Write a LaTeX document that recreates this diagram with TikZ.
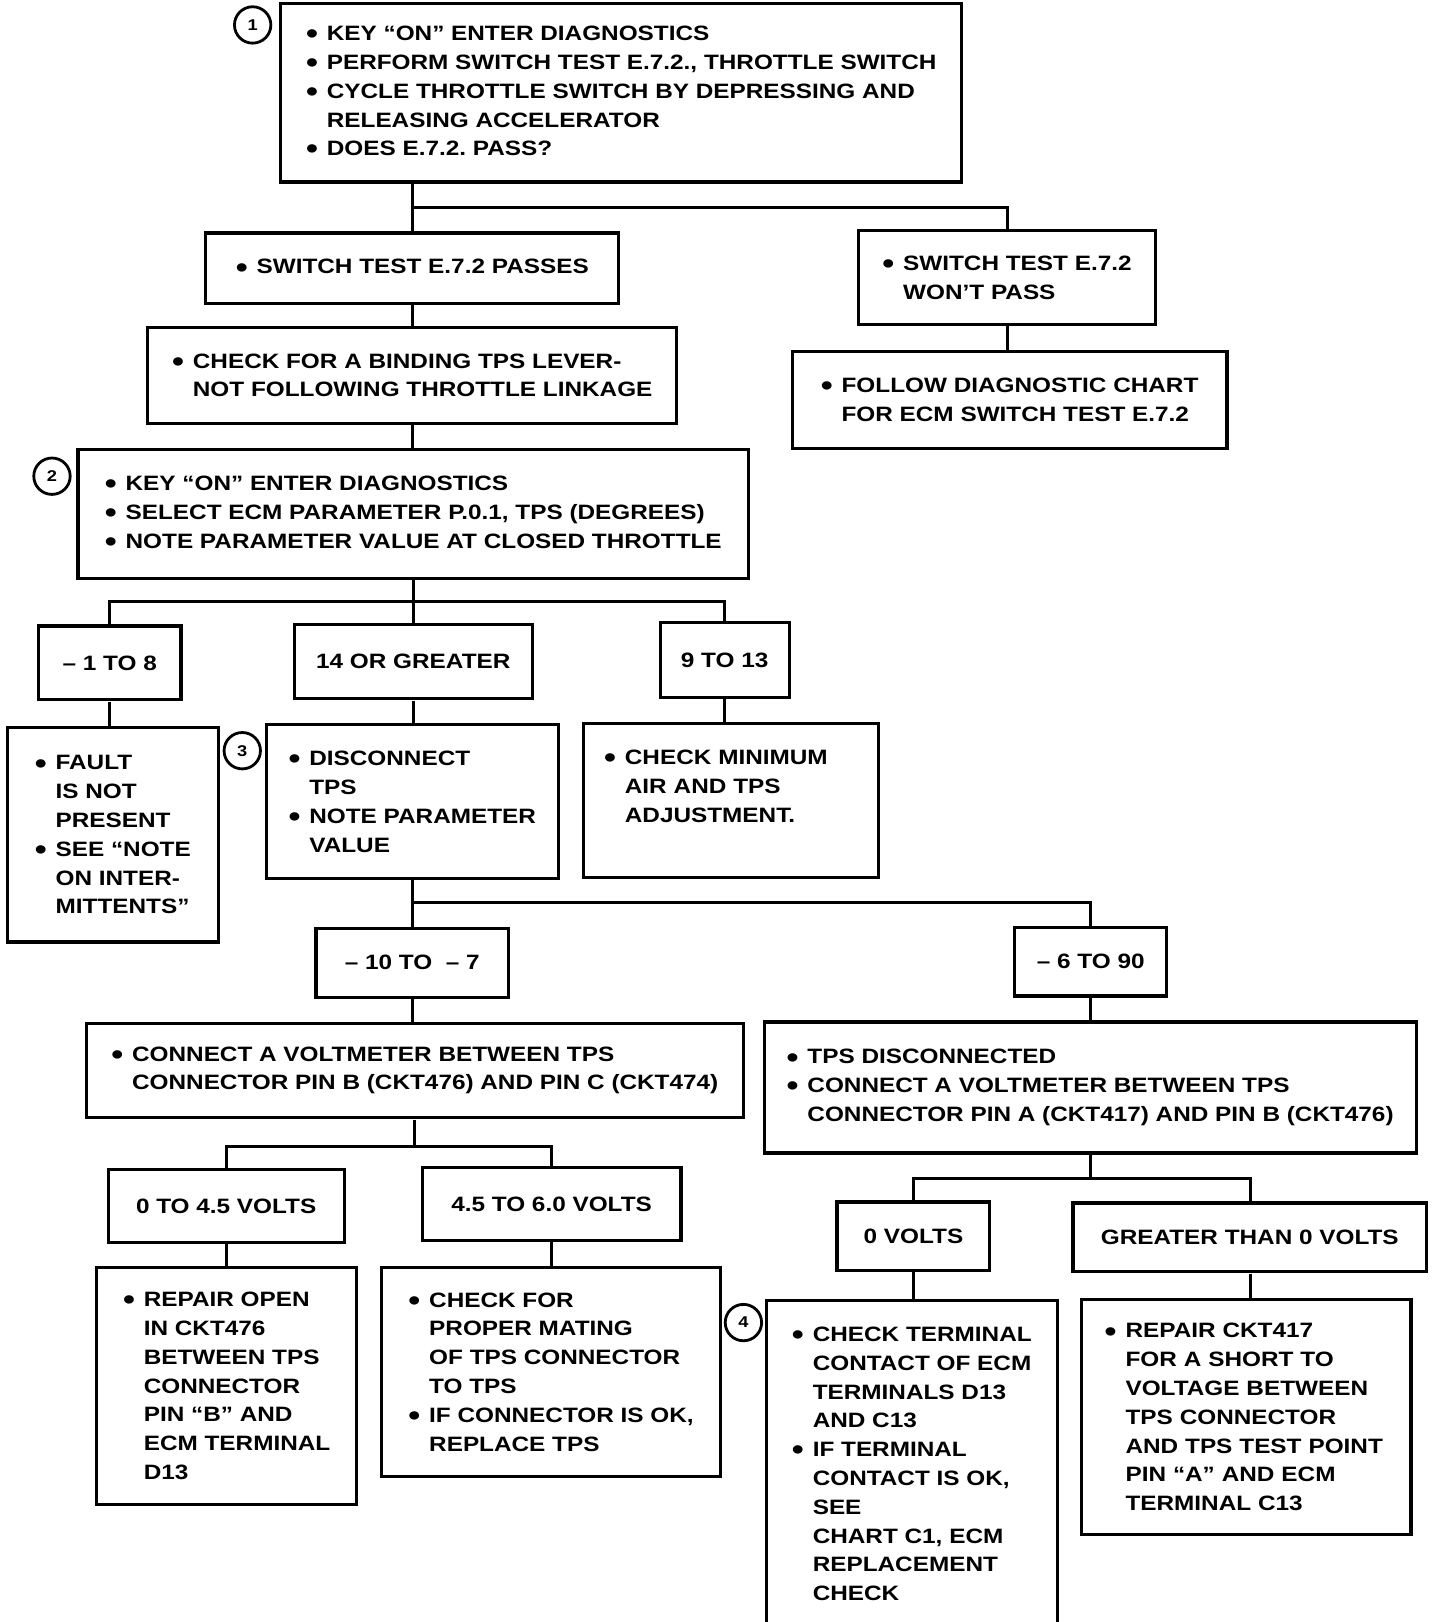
\documentclass[tikz,border=0pt]{standalone}
\usepackage{fontspec}
\setmainfont{Liberation Sans}[FakeStretch=1.17]
\usepackage{tikz}
\usetikzlibrary{calc}
\frenchspacing
\newcommand{\chartfont}{\bfseries\fontsize{20}{27.7}\selectfont}
\newcommand{\bul}{\makebox[1em][l]{\raisebox{-0.15em}{\scalebox{1.4}{•}}}}
\newcommand{\ind}{\hspace*{1em}}
\tikzset{
  box/.style={draw, line width=3.2pt, align=left, inner sep=0pt, font=\chartfont},
  num/.style={draw, circle, line width=2.8pt, minimum size=35, inner sep=0pt,
    font=\bfseries\fontsize{15}{15}\selectfont},
  link/.style={line width=3pt}
}

\begin{document}
\begin{tikzpicture}[x=1pt, y=-1pt, scale=1.04, every node/.append style={transform shape}]
\useasboundingbox (0,0) rectangle (1385,1560);
% first check
\node[box, minimum width=655, minimum height=172] (B1) at (597.5,89)
  {\bul KEY “ON” ENTER DIAGNOSTICS\\
   \bul PERFORM SWITCH TEST E.7.2., THROTTLE SWITCH\\
   \bul CYCLE THROTTLE SWITCH BY DEPRESSING AND\\
   \ind RELEASING ACCELERATOR\\
   \bul DOES E.7.2. PASS?};
\node[box, minimum width=397, minimum height=68] (B2) at (396.5,258)
  {\bul SWITCH TEST E.7.2 PASSES};
\node[box, minimum width=285, minimum height=90] (B3) at (968.5,267)
  {\bul SWITCH TEST E.7.2\\ \ind WON'T PASS};
\node[box, minimum width=509, minimum height=92] (B4) at (396.5,361)
  {\bul CHECK FOR A BINDING TPS LEVER-\\ \ind NOT FOLLOWING THROTTLE LINKAGE};
\node[box, minimum width=418, minimum height=93] (B5) at (971,384.5)
  {\bul FOLLOW DIAGNOSTIC CHART\\ \ind FOR ECM SWITCH TEST E.7.2};
\node[box, minimum width=645, minimum height=124] (B6) at (397.5,494)
  {\bul KEY “ON” ENTER DIAGNOSTICS\\
   \bul SELECT ECM PARAMETER P.0.1, TPS (DEGREES)\\
   \bul NOTE PARAMETER VALUE AT CLOSED THROTTLE};
% parameter values
\node[box, minimum width=137, minimum height=71] (C1) at (105.5,637.5) {– 1 TO 8};
\node[box, minimum width=229, minimum height=71] (C2) at (397.5,636.5) {14 OR GREATER};
\node[box, minimum width=124, minimum height=72] (C3) at (697,635) {9 TO 13};
\node[box, minimum width=203, minimum height=206] (D1) at (108.5,803)
  {\bul FAULT\\ \ind IS NOT\\ \ind PRESENT\\ \bul SEE “NOTE\\ \ind ON INTER-\\ \ind MITTENTS”};
\node[box, minimum width=281, minimum height=148] (D2) at (396.5,771)
  {\bul DISCONNECT\\ \ind TPS\\ \bul NOTE PARAMETER\\ \ind VALUE};
\node[box, minimum width=284, minimum height=148, text width=244] (D3) at (703,770)
  {\bul CHECK MINIMUM\\ \ind AIR AND TPS\\ \ind ADJUSTMENT.\\ \mbox{}};
% disconnected tps
\node[box, minimum width=185, minimum height=66] (E1) at (396.5,926) {– 10 TO \ – 7};
\node[box, minimum width=146, minimum height=66] (E2) at (1049,925) {– 6 TO 90};
\node[box, minimum width=632, minimum height=91] (F1) at (399,1029.5)
  {\bul CONNECT A VOLTMETER BETWEEN TPS\\ \ind CONNECTOR PIN B (CKT476) AND PIN C (CKT474)};
\node[box, minimum width=627, minimum height=126] (F2) at (1048.5,1046)
  {\bul TPS DISCONNECTED\\ \bul CONNECT A VOLTMETER BETWEEN TPS\\
   \ind CONNECTOR PIN A (CKT417) AND PIN B (CKT476)};
% voltages
\node[box, minimum width=227, minimum height=70] (G1) at (217.5,1160) {0 TO 4.5 VOLTS};
\node[box, minimum width=249, minimum height=70] (G2) at (530.5,1158) {4.5 TO 6.0 VOLTS};
\node[box, minimum width=147, minimum height=66] (G3) at (878.5,1189) {0 VOLTS};
\node[box, minimum width=340, minimum height=66] (G4) at (1202,1190) {GREATER THAN 0 VOLTS};
\node[box, minimum width=250, minimum height=228] (H1) at (218,1333)
  {\bul REPAIR OPEN\\ \ind IN CKT476\\ \ind BETWEEN TPS\\ \ind CONNECTOR\\
   \ind PIN “B” AND\\ \ind ECM TERMINAL\\ \ind D13};
\node[box, minimum width=326, minimum height=201] (H2) at (530,1319.5)
  {\bul CHECK FOR\\ \ind PROPER MATING\\ \ind OF TPS CONNECTOR\\ \ind TO TPS\\
   \bul IF CONNECTOR IS OK,\\ \ind REPLACE TPS};
\node[box, minimum width=280, minimum height=314] (H3) at (877,1408)
  {\bul CHECK TERMINAL\\ \ind CONTACT OF ECM\\ \ind TERMINALS D13\\ \ind AND C13\\
   \bul IF TERMINAL\\ \ind CONTACT IS OK,\\ \ind SEE\\ \ind CHART C1, ECM\\
   \ind REPLACEMENT\\ \ind CHECK};
\node[box, minimum width=317, minimum height=226, text width=272] (H4) at (1198.5,1363)
  {\bul REPAIR CKT417\\ \ind FOR A SHORT TO\\ \ind VOLTAGE BETWEEN\\ \ind TPS CONNECTOR\\
   \ind AND TPS TEST POINT\\ \ind PIN “A” AND ECM\\ \ind TERMINAL C13};
% step numbers
\foreach \n/\x/\y in {1/243/24, 2/50/458, 3/233/722, 4/715/1272}
  \node[num] (n\n) at (\x,\y) {\n};
% branch points
\coordinate (j1) at (397,200);
\coordinate (j2) at (397,578);
\coordinate (j3) at (397,868);
\coordinate (j4) at (399,1102);
\coordinate (j5) at (1048.5,1133);
\draw[link] (B2.north |- B1.south) -- (B2.north);
\draw[link] (j1) -| (B3.north);
\draw[link] (B6.south) -- (C2.north);
\draw[link] (C1.north) |- (j2) -| (C3.north);
\draw[link] (D2.south) -- (E1.north);
\draw[link] (j3) -| (E2.north);
\draw[link] (F1.south) -- (j4);
\draw[link] (G1.north) |- (j4) -| (G2.north);
\draw[link] (F2.south) -- (j5);
\draw[link] (G3.north) |- (j5) -| (G4.north);
\foreach \a/\b in {B2/B4, B3/B5, B4/B6, C1/D1, C2/D2, C3/D3, E1/F1, E2/F2,
                   G1/H1, G2/H2, G3/H3, G4/H4}
  \draw[link] (\a.south) -- (\a.south |- \b.north);
\end{tikzpicture}
\end{document}
